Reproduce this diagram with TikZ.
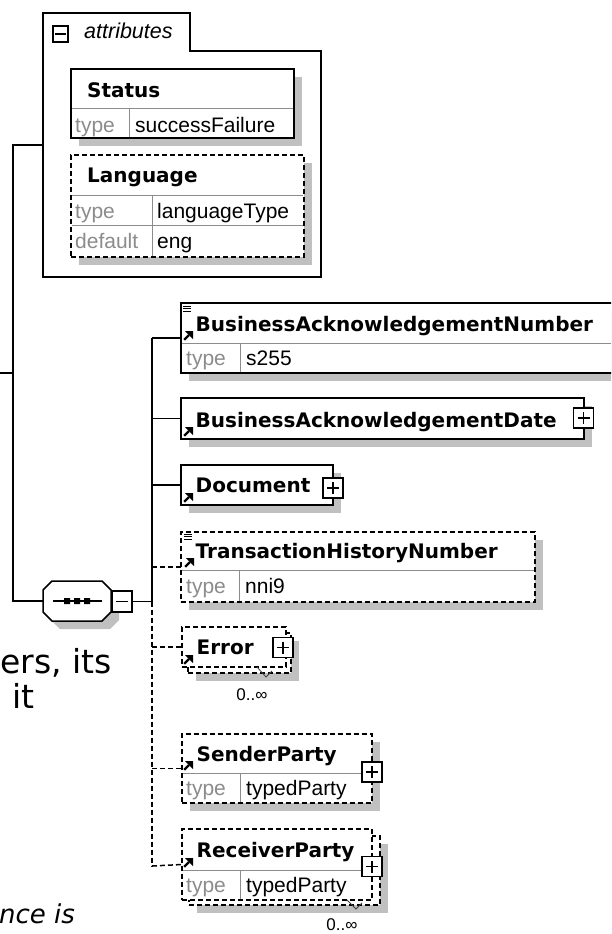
\documentclass[tikz,border=0pt]{standalone}
\usepackage{fontspec}
\setmainfont{Liberation Sans}
\newfontfamily\dejavu{DejaVu Sans}
\usetikzlibrary{shadows}
\definecolor{shadowgray}{HTML}{C0C0C0}
\definecolor{sepgray}{HTML}{8C8C8C}
\definecolor{typegray}{HTML}{8C8C8C}
\newcommand\hdrfont{\dejavu\bfseries\fontsize{20}{24}\selectfont}
\newcommand\rowfont{\fontsize{21}{24}\selectfont}
\newcommand\occfont{\fontsize{17}{20}\selectfont}
\newcommand\plusbox[3]{%
  \node[pbox] (#1) at (#2,#3) {};
  \draw[line width=1.1pt] (#2-6,#3) -- (#2+6,#3) (#2,#3-6) -- (#2,#3+6);}
\newcommand\arrowicon[2]{%
  \begin{scope}[shift={(#1,#2)}]
    \draw[line width=2.2pt] (1.2,-1.2) -- (6,-6);
    \fill (2,-10) -- (10,-10) -- (10,-2) -- cycle;
  \end{scope}}
\newcommand\listicon[2]{%
  \begin{scope}[shift={(#1,#2)}]
    \draw[line width=1pt] (0,0) -- (8,0) (0,2.7) -- (8,2.7) (0,5.4) -- (8,5.4);
  \end{scope}}
\begin{document}
\begin{tikzpicture}[x=1pt,y=-1pt,
  bx/.style={draw, line width=1.5pt, fill=white, inner sep=0pt, outer sep=0pt, anchor=north west},
  shd/.style={drop shadow={shadow xshift=8pt, shadow yshift=-8pt, fill=shadowgray, opacity=1, draw=none}},
  dsh/.style={dash pattern=on 5pt off 3pt},
  sepl/.style={draw=sepgray, line width=1pt},
  conn/.style={line width=1.5pt},
  hdr/.style={font=\hdrfont, anchor=base west, inner sep=0pt},
  lbl/.style={font=\rowfont, text=typegray, anchor=base west, inner sep=0pt},
  val/.style={font=\rowfont, anchor=base west, inner sep=0pt},
  occ/.style={font=\occfont, anchor=base, inner sep=0pt},
  pbox/.style={draw, line width=1.3pt, fill=white, minimum size=20pt, inner sep=0pt, outer sep=0pt},
  mbox/.style={draw, line width=1.3pt, fill=white, inner sep=0pt, outer sep=0pt},
  bgtext/.style={font=\dejavu\fontsize{33}{40}\selectfont, anchor=base west, inner sep=0pt},
  bgital/.style={font=\dejavu\itshape\fontsize{26}{30}\selectfont, anchor=base west, inner sep=0pt},
]
\useasboundingbox (0,0) rectangle (611,934);
\clip (0,0) rectangle (611,934);
\fill[white] (0,0) rectangle (611,934);

% fragments of surrounding page text
\node[bgtext] (frag1) at (0,673) {ers, its};
\node[bgtext] (frag2) at (12,708) {it};
\node[bgital] (frag3) at (-1,923) {nce is};

% ---------------- attributes group ----------------
\draw[line width=1.5pt] (43,13) -- (190,13) -- (190,51) -- (321,51) -- (321,277) -- (43,277) -- cycle;
\node[mbox, minimum width=15pt, minimum height=16pt] (attrmin) at (60.5,34) {};
\draw[line width=1.1pt] (55,34) -- (66,34);
\node[font=\itshape\fontsize{21.5}{24}\selectfont, anchor=base west, inner sep=0pt] (attrtxt) at (84,39) {attributes};
\coordinate (attrL) at (43,145);

% Status
\node[bx, shd, minimum width=223pt, minimum height=69pt] (status) at (71,69) {};
\draw[sepl] (71.8,108) -- (293.2,108) (129,108) -- (129,137.2);
\node[hdr] (statusT) at (87,97) {Status};
\node[lbl] (statusTy) at (75,132) {type};
\node[val] (statusV) at (135,132) {successFailure};

% Language
\node[bx, shd, dsh, minimum width=233pt, minimum height=102pt] (lang) at (71,155) {};
\draw[sepl] (71.8,195) -- (303.2,195) (71.8,225) -- (303.2,225) (152,195) -- (152,256.2);
\node[hdr] (langT) at (87,182) {Language};
\node[lbl] (langTy) at (75,218) {type};
\node[val] (langV) at (157,218) {languageType};
\node[lbl] (langDf) at (75,248) {default};
\node[val] (langD) at (157,248) {eng};

% ---------------- connectors on the left ----------------
\coordinate (rootstub) at (0,373);
\coordinate (rootj) at (13,373);
\coordinate (leftbend) at (13,145);
\draw[conn] (rootstub) -- (rootj);

% sequence compositor
\node[inner sep=0pt, minimum width=68pt, minimum height=40pt] (seq) at (77,601) {};
\fill[shadowgray] (60,589) -- (110,589) -- (119,598) -- (119,620) -- (110,629) -- (60,629) -- (51,620) -- (51,598) -- cycle;
\draw[line width=1.5pt, fill=white] (52,581) -- (102,581) -- (111,590) -- (111,612) -- (102,621) -- (52,621) -- (43,612) -- (43,590) -- cycle;
\draw[line width=1.3pt] (53,601) -- (102,601);
\fill (64,598) rectangle (70,604) (74,598) rectangle (80,604) (84,598) rectangle (90,604);
\node[mbox, minimum width=20pt, minimum height=21pt] (seqmin) at (122,601.5) {};
\draw[line width=1.1pt] (116,601.5) -- (128,601.5);

\draw[conn] (attrL) -- (leftbend) |- (seq.west);

\coordinate (spMid) at (152,601.5);
\coordinate (spTop) at (152,338);
\coordinate (spBot) at (152,866);
\draw[conn] (seqmin.east) -- (spMid);
\draw[conn] (spTop) -- (spMid);
\draw[conn, dsh] (spMid) -- (spBot);

% ---------------- child elements ----------------
% BusinessAcknowledgementNumber
\node[bx, shd, minimum width=440pt, minimum height=70pt] (ban) at (181,303) {};
\draw[sepl] (181.8,343) -- (611,343) (240,343) -- (240,372.2);
\listicon{183}{306}
\arrowicon{183}{341}
\node[hdr] (banT) at (195.5,331) {BusinessAcknowledgementNumber};
\node[lbl] (banTy) at (186,365) {type};
\node[val] (banV) at (246,365) {s255};
\draw[conn] (spTop) -- (ban.west);

% BusinessAcknowledgementDate
\node[bx, shd, minimum width=403pt, minimum height=41pt] (bad) at (181,398) {};
\arrowicon{183}{437}
\node[hdr] (badT) at (195.5,427) {BusinessAcknowledgementDate};
\plusbox{badp}{583.5}{418}
\draw[conn] (spTop |- bad.west) -- (bad.west);

% Document
\node[bx, shd, minimum width=152pt, minimum height=40pt] (doc) at (181,465) {};
\arrowicon{183}{503}
\node[hdr] (docT) at (195.5,492) {Document};
\plusbox{docp}{333}{488}
\draw[conn] (spTop |- doc.west) -- (doc.west);

% TransactionHistoryNumber
\node[bx, shd, dsh, minimum width=354pt, minimum height=70pt] (thn) at (181,532) {};
\draw[sepl] (181.8,570) -- (534.2,570) (239,570) -- (239,601.2);
\listicon{184}{534}
\arrowicon{184}{568}
\node[hdr] (thnT) at (195.5,558) {TransactionHistoryNumber};
\node[lbl] (thnTy) at (186,593) {type};
\node[val] (thnV) at (245,593) {nni9};
\draw[conn, dsh] (spTop |- thn.west) -- (thn.west);

% Error (repeating)
\node[bx, shd, dsh, minimum width=103pt, minimum height=40pt] (errback) at (188,633) {};
\node[bx, dsh, minimum width=104pt, minimum height=40pt] (err) at (182,627) {};
\arrowicon{183}{665}
\node[hdr] (errT) at (196.5,654) {Error};
\plusbox{errp}{283}{647.5}
\draw[line width=0.8pt, draw=black!75] (257,667) -- (266,677) -- (272,671);
\node[occ] (errocc) at (252,700) {0..∞};
\draw[conn, dsh] (spTop |- err.west) -- (err.west);

% SenderParty
\node[bx, shd, dsh, minimum width=190pt, minimum height=69pt] (snd) at (182,734) {};
\draw[sepl] (182.8,773) -- (371.2,773) (240,773) -- (240,802.2);
\arrowicon{183}{771}
\node[hdr] (sndT) at (196.5,761) {SenderParty};
\node[lbl] (sndTy) at (186,795) {type};
\node[val] (sndV) at (246,795) {typedParty};
\plusbox{sndp}{372}{772}
\draw[conn, dsh] (spTop |- snd.west) -- (snd.west);

% ReceiverParty (repeating)
\node[bx, shd, dsh, minimum width=191pt, minimum height=69pt] (rcvback) at (189,836) {};
\node[bx, dsh, minimum width=190pt, minimum height=71pt] (rcv) at (182,829) {};
\draw[sepl] (182.8,870) -- (371.2,870) (240,870) -- (240,899.2);
\arrowicon{183}{868}
\node[hdr] (rcvT) at (196.5,857) {ReceiverParty};
\node[lbl] (rcvTy) at (186,892) {type};
\node[val] (rcvV) at (246,892) {typedParty};
\plusbox{rcvp}{372}{866.5}
\draw[line width=0.8pt, draw=black!75] (347,900) -- (356,909) -- (362,903);
\node[occ] (rcvocc) at (342,930) {0..∞};
\draw[conn, dsh] (spBot) -- (rcv.west);
\end{tikzpicture}
\end{document}
